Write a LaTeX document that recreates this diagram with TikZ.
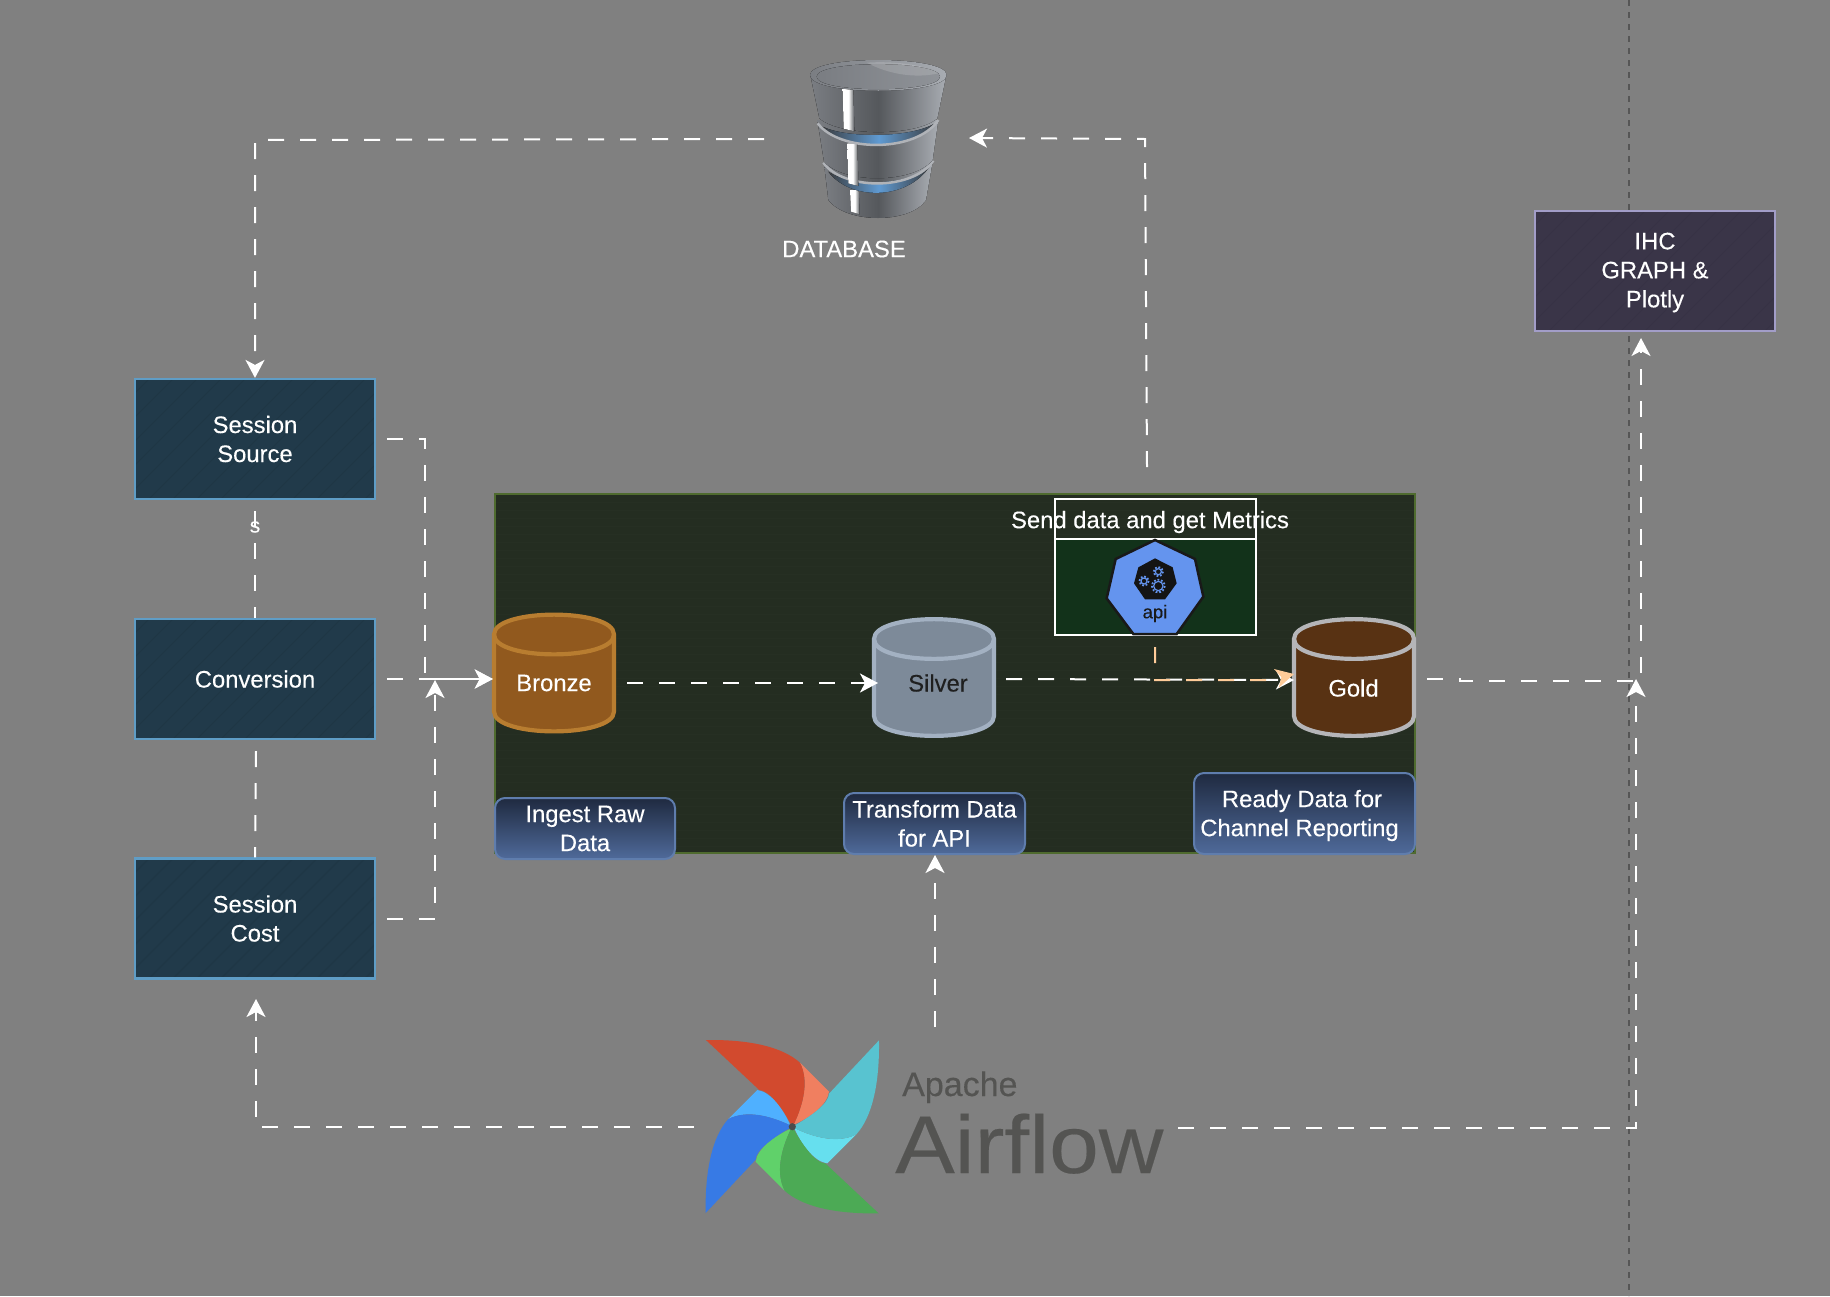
\documentclass[tikz,border=0pt]{standalone}
\usepackage{fontspec}
\setmainfont[FakeBold=0.2]{Liberation Sans}
\usetikzlibrary{arrows.meta,calc}
\definecolor{bgc}{HTML}{808080}
\definecolor{panelc}{HTML}{242D21}
\definecolor{panelh}{HTML}{262F23}
\definecolor{panelb}{HTML}{4F6B2F}
\definecolor{boxc}{HTML}{213A4A}
\definecolor{boxh}{HTML}{1F3645}
\definecolor{boxb}{HTML}{5F9DC6}
\definecolor{ihcc}{HTML}{3A3548}
\definecolor{ihch}{HTML}{373245}
\definecolor{ihcb}{HTML}{A29DC8}
\definecolor{apic}{HTML}{12321A}
\definecolor{apib}{HTML}{6494EE}
\definecolor{orangec}{HTML}{FFCC99}
\definecolor{logotext}{HTML}{545452}
\definecolor{HeadC}{HTML}{1F2A40}
\definecolor{FootC}{HTML}{4F6A9A}
\definecolor{LblB}{HTML}{5F7DAD}
\definecolor{bronzef}{HTML}{91591E}
\definecolor{bronzeb}{HTML}{B87D30}
\definecolor{silverf}{HTML}{7D8A99}
\definecolor{silverb}{HTML}{A3B1C2}
\definecolor{goldf}{HTML}{583213}
\definecolor{goldb}{HTML}{B5B5B8}
\definecolor{dbdark}{HTML}{55585C}
\definecolor{dbmid}{HTML}{7A7D82}
\definecolor{dblight}{HTML}{A8ACB2}
\definecolor{dbring}{HTML}{B0B3B8}
\definecolor{dbblue}{HTML}{5F9AD2}
\definecolor{redb}{HTML}{D24A2E}
\definecolor{redl}{HTML}{F07F60}
\definecolor{tealb}{HTML}{58C3D0}
\definecolor{teall}{HTML}{66DFEE}
\definecolor{greenb}{HTML}{4CAA55}
\definecolor{greenl}{HTML}{60D16A}
\definecolor{blueb}{HTML}{377AE5}
\definecolor{bluel}{HTML}{4FB0FF}
\tikzset{
  flow/.style={white,line width=2,dash pattern=on 16pt off 16pt,-{Stealth[length=18pt,width=19pt,inset=5pt]}},
  flowplain/.style={white,line width=2,dash pattern=on 16pt off 16pt},
  flowo/.style={orangec,line width=2,dash pattern=on 16pt off 16pt,-{Stealth[length=18pt,width=19pt,inset=5pt]}},
  txt/.style={text=white,font=\fontsize{23.8}{29}\selectfont,align=center,inner sep=0},
  hatched/.style={path picture={\foreach \k in {-130,-106,...,260}
      \draw[#1,line width=.8] ([xshift=\k pt]path picture bounding box.south west) -- ++(140,-140);}},
  srcbox/.style={draw=boxb,fill=boxc,line width=2.2,minimum width=240,minimum height=120,hatched=boxh,txt},
  ihcbox/.style={draw=ihcb,fill=ihcc,line width=2.2,minimum width=240,minimum height=120,hatched=ihch,txt},
  lblbox/.style={draw=LblB,top color=HeadC,bottom color=FootC,line width=2,rounded corners=10,txt},
  cylhit/.style={inner sep=0,minimum width=122,minimum height=122},
}
\newcommand{\cyldraw}[4]{% cx cy fill border
  \begin{scope}[shift={(#1,#2)}]
    \draw[fill=#3,draw=#4,line width=4.2] (-60,-38.5) .. controls (-60,-65) and (60,-65) .. (60,-38.5) -- (60,38.5) .. controls (60,65) and (-60,65) .. (-60,38.5) -- cycle;
    \draw[draw=#4,line width=4.2] (-60,-38.5) .. controls (-60,-12) and (60,-12) .. (60,-38.5);
  \end{scope}}
\newcommand{\bladepair}[3]{% angle dark light
  \begin{scope}[shift={(792.3,1126.7)},rotate=#1,scale=1/3]
    \fill[#3] (23,-192) -- (110,-105) .. controls (105,-65) and (50,-25) .. (4,-6) .. controls (35,-70) and (50,-140) .. (23,-192) -- cycle;
    \fill[#2] (-259,-260) .. controls (-130,-262) and (-30,-240) .. (23,-192) .. controls (50,-140) and (35,-70) .. (4,-6) -- (0,0) .. controls (-30,-55) and (-70,-110) .. (-99,-110) -- cycle;
  \end{scope}}
\newcommand{\dbstripe}[4]{% x1 x2 ytop ybot
  \fill[left color=white,right color=dbdark,middle color=white] (#1,#3) -- (#2,#3) -- (#2+3,#4+8) -- (#1+3,#4) -- cycle;}
\begin{document}
\begin{tikzpicture}[x=1pt,y=-1pt]
\useasboundingbox (0,0) rectangle (1830,1296);
\fill[bgc] (0,0) rectangle (1830,1296);
% dark dashed divider
\coordinate (divtop) at (1629,0);
\coordinate (divbot) at (1629,1296);
\draw[black!70,opacity=.8,line width=2,dash pattern=on 6pt off 6pt] (divtop) -- (divbot);
% panel
\draw[fill=panelc,draw=panelb,line width=2] (495,494) rectangle (1415,853);
\foreach \py in {502,510,...,850} \draw[panelh,line width=1] (496,\py) -- (1414,\py);
% api box
\draw[fill=apic,draw=white,line width=2] (1055,539) rectangle (1256,635);
\draw[draw=white,line width=2] (1055,499) rectangle (1256,539);
\begin{scope}[shift={(1030,480)},scale=1/3]
  \draw[fill=apib,draw=black!90,line width=2.5] (375,180) -- (495,237) -- (520,350) -- (440,462) -- (310,462) -- (230,355) -- (257,237) -- cycle;
  \fill[black!92] (375,235) -- (428,262) -- (440,310) -- (405,358) -- (345,358) -- (312,310) -- (325,262) -- cycle;
  \foreach \gx/\gy/\gr in {342/303/9,385/275/9,385/318/14}{
    \draw[apib,line width=1.2] (\gx,\gy) circle[radius=\gr];
    \draw[apib,line width=1.8,dash pattern=on 1.8pt off 1.8pt] (\gx,\gy) circle[radius=\gr+5];
  }
\end{scope}
\node[text=black!90,font=\fontsize{18.5}{20}\selectfont,inner sep=0] (apilabel) at (1155,613.5) {api};
\node[txt] (metrics) at (1150,522) {Send data and get Metrics};
% cylinders
\cyldraw{554}{673}{bronzef}{bronzeb}
\cyldraw{934}{677.5}{silverf}{silverb}
\cyldraw{1354}{677.5}{goldf}{goldb}
\node[cylhit] (bronze) at (554,673) {};
\node[cylhit] (silver) at (934,677.5) {};
\node[cylhit] (gold) at (1354,677.5) {};
\node[txt] (bronzelabel) at (554,683) {Bronze};
\node[txt,text=black!88] (silverlabel) at (938,683) {Silver};
\node[txt] (goldlabel) at (1353.5,688) {Gold};
% source boxes
\node[srcbox] (source) at (255,439) {Session\\Source};
\node[srcbox] (conversion) at (255,679) {Conversion};
\node[srcbox] (cost) at (255,918.5) {Session\\Cost};
\node[ihcbox] (ihc) at (1655,271) {};
\node[txt] (ihclabel) at (1655,272.5) {IHC\\GRAPH \&\\Plotly};
% labels in panel
\node[lblbox,minimum width=180,minimum height=61] (ingest) at (585,828.5) {Ingest Raw\\Data};
\node[lblbox,minimum width=181,minimum height=61] (transform) at (934.5,823.5) {Transform Data\\for API};
\node[lblbox,minimum width=221,minimum height=81] (ready) at (1304.5,813.5) {};
\node[txt] (readylabel) at (1302,815.5) {Ready Data for\\Channel Reporting\hspace*{5pt}};
% database icon
\begin{scope}[shift={(760,30)},scale=1/3]
  % bottom tier
  \fill[left color=dbmid,right color=dblight,middle color=dbdark] (192,400) -- (205,510) .. controls (260,582) and (450,582) .. (498,510) -- (518,395) -- cycle;
  \dbstripe{270}{296}{480}{545}
  \fill[left color=dbdark!70!black,right color=dbdark!70!black,middle color=dbblue] (205,425) .. controls (270,512) and (440,512) .. (508,410) .. controls (440,470) and (270,470) .. cycle;
  % middle tier
  \draw[dbring,line width=2.5] (190,398) .. controls (250,482) and (460,482) .. (520,392);
  \fill[left color=dbmid,right color=dblight,middle color=dbdark] (172,270) -- (192,395) .. controls (250,462) and (460,462) .. (518,390) -- (535,270) -- cycle;
  \dbstripe{262}{292}{340}{460}
  \fill[left color=dbdark!70!black,right color=dbdark!70!black,middle color=dbblue] (188,290) .. controls (260,362) and (450,362) .. (525,280) .. controls (450,325) and (260,325) .. cycle;
  \draw[dbring,line width=2.5] (173,280) .. controls (240,368) and (470,368) .. (535,270);
  % top tier
  \fill[left color=dbmid,right color=dblight,middle color=dbdark] (152,140) -- (178,265) .. controls (240,320) and (470,320) .. (532,265) -- (558,140) -- cycle;
  \dbstripe{248}{280}{175}{296}
  \fill[left color=dbmid,right color=dblight] (150,135) .. controls (150,75) and (560,75) .. (560,135) .. controls (560,198) and (150,198) .. cycle;
  \fill[left color=dbmid,right color=dbdark!30!dblight] (170,140) .. controls (170,90) and (540,90) .. (540,140) .. controls (540,190) and (170,190) .. cycle;
  \fill[white,opacity=.15] (320,98) .. controls (400,92) and (500,105) .. (535,130) .. controls (470,145) and (390,135) .. cycle;
\end{scope}
\node[txt] (dblabel) at (844,249) {DATABASE};
% airflow logo
\bladepair{0}{redb}{redl}
\bladepair{-90}{tealb}{teall}
\bladepair{-180}{greenb}{greenl}
\bladepair{-270}{blueb}{bluel}
\fill[black!70] (792.3,1126.7) circle[radius=3.6];
\node[anchor=base west,inner sep=0,text=logotext,font=\fontsize{34}{36}\selectfont] (apache) at (902,1096) {Apache};
\node[anchor=base west,inner sep=0,text=logotext,font=\fontsize{82}{90}\selectfont] (airflow) at (895,1173) {\scalebox{1.09}[1]{Airflow}};
% free connector ends
\coordinate (dbout) at (764,139);
\coordinate (dbin) at (969,138);
\coordinate (metricout) at (1147,467);
\coordinate (srcout) at (387,439);
\coordinate (convout) at (387,679);
\coordinate (costout) at (387,919);
\coordinate (costin) at (435,680);
\coordinate (bronzeout) at (627,683);
\coordinate (silverout) at (1006,679);
\coordinate (apiout) at (1155,647);
\coordinate (goldout) at (1427,679);
\coordinate (ihcin) at (1641,338);
\coordinate (flowleft) at (694,1127);
\coordinate (flowright) at (1178,1128);
\coordinate (flowup) at (935,1027);
\coordinate (tfin) at (935,855);
\coordinate (mergein) at (1636,679);
\coordinate (costin2) at (256,999);
\coordinate (srcdown) at (255,511);
\coordinate (convdown) at (256,751);
% connectors
\draw[flow] (dbout) -- (255,140) -- (source.north);
\draw[flow] (metricout) -- (1145,139) -- (dbin);
\draw[flow] (srcout) -- (425,439) -- (425,679) -- (conversion.east -| bronze.west);
\draw[flow] (convout) -- (conversion.east -| bronze.west);
\draw[flow] (costout) -- (435,919) -- (costin);
\draw[flowplain] (srcdown) -- (conversion.north);
\node[text=white,font=\fontsize{21}{22}\selectfont,inner sep=0] (slabel) at (255,527) {s};
\draw[flowplain] (convdown) -- (cost.north);
\draw[flow] (bronzeout) -- (878,683);
\draw[flow] (silverout) -- (1294,680);
\draw[flowo] (apiout) -- (1155,680) -- (1270,680) -- (1294,674);
\draw[flow] (goldout) -- (1460,679) -- (1460,681) -- (1641,681) -- (ihcin);
\draw[flow] (flowleft) -- (256,1127) -- (costin2);
\draw[flow] (flowup) -- (tfin);
\draw[flow] (flowright) -- (1636,1128) -- (mergein);
\end{tikzpicture}
\end{document}
